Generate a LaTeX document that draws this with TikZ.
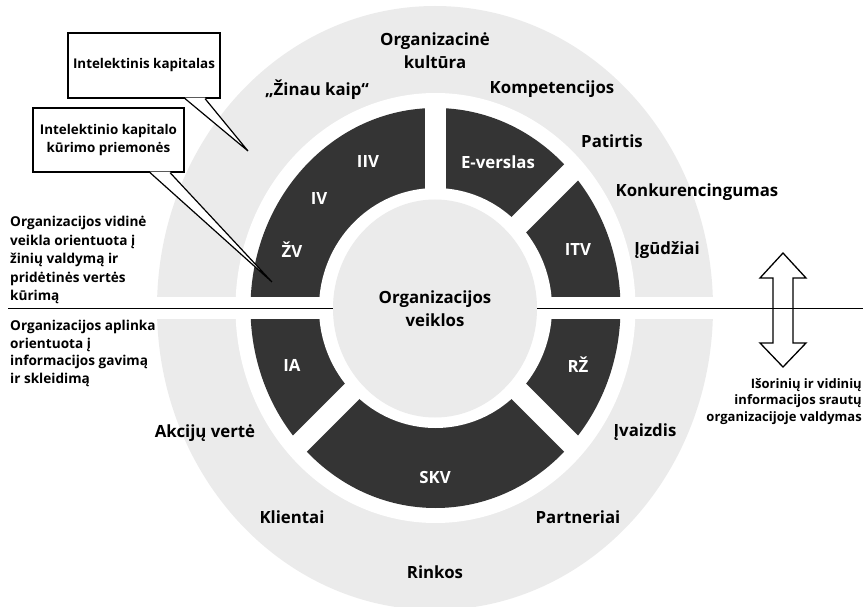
\documentclass[tikz,border=0pt]{standalone}
\usepackage{fontspec}
\setmainfont{Open Sans}
\usetikzlibrary{shapes.geometric}
\definecolor{ringgray}{RGB}{235,235,235}
\definecolor{darkseg}{RGB}{52,52,52}
\begin{document}
\begin{tikzpicture}[x=1pt,y=-1pt,
  lbl/.style={inner sep=0pt, font=\bfseries\fontsize{16.8pt}{23pt}\selectfont, align=center},
  seg/.style={inner sep=0pt, font=\bfseries\fontsize{16.8pt}{20pt}\selectfont, text=white},
  note/.style={inner sep=0pt, font=\bfseries\fontsize{13.6pt}{18.5pt}\selectfont, align=left},
  callbox/.style={draw, line width=1.2pt, fill=white, inner sep=0pt, font=\bfseries\fontsize{13.4pt}{18pt}\selectfont, align=center},
  tail/.style={line width=1.2pt, line join=miter},
  divider/.style={line width=1.6pt},
]
\useasboundingbox (0,0) rectangle (863,607);
% outer light ring
\fill[ringgray] (435,308) ellipse [x radius=278pt, y radius=302pt];
\coordinate (C) at (435.5,308);
\fill[white] (C) ellipse [x radius=200pt, y radius=215pt];
\fill[darkseg] (C) ellipse [x radius=185pt, y radius=200pt];
\begin{scope}[white, line width=21pt]
\draw (C) -- ++(0,-207);
\draw (C) -- ++(141,-141);
\draw (C) -- ++(141,141);
\draw (C) -- ++(-141,141);
\end{scope}
\fill[white] (0,297) rectangle (863,319);
\fill[white] (C) ellipse [x radius=116.5pt, y radius=120pt];
\node[ellipse, fill=ringgray, minimum width=204pt, minimum height=218pt, lbl] (core) at (435,308.5) {Organizacijos\\veiklos};

% segment labels
\node[seg] (iiv) at (368,162) {IIV};
\node[seg] (iv) at (319,199) {IV};
\node[seg] (zv) at (292,250) {ŽV};
\node[seg] (ever) at (498,162) {E-verslas};
\node[seg] (itv) at (578,250) {ITV};
\node[seg] (rz) at (578,365) {RŽ};
\node[seg] (skv) at (435,477) {SKV};
\node[seg] (ia) at (292,365) {IA};

% outer labels
\node[lbl] (kult) at (435,50.5) {Organizacinė\\kultūra};
\node[lbl] (zinau) at (317,90) {„Žinau kaip“};
\node[lbl] (komp) at (552,89) {Kompetencijos};
\node[lbl] (pat) at (612,141) {Patirtis};
\node[lbl] (konk) at (697,192) {Konkurencingumas};
\node[lbl] (igud) at (667,250) {Įgūdžiai};
\node[lbl] (ivaiz) at (645,432) {Įvaizdis};
\node[lbl] (akc) at (205,433) {Akcijų vertė};
\node[lbl] (klien) at (292,517) {Klientai};
\node[lbl] (part) at (578,517) {Partneriai};
\node[lbl] (rink) at (435,572) {Rinkos};

% side texts
\node[note, anchor=west] (inner) at (10,260) {Organizacijos vidinė\\veikla orientuota į\\žinių valdymą ir\\pridėtinės vertės\\kūrimą};
\node[note, anchor=west, font=\bfseries\fontsize{13.6pt}{17.7pt}\selectfont] (outer) at (10,353.5) {Organizacijos aplinka\\orientuota į\\informacijos gavimą\\ir skleidimą};
\node[note, anchor=east, align=right, font=\bfseries\fontsize{13pt}{16.5pt}\selectfont] (flow) at (862,401.5) {Išorinių ir vidinių\\informacijos srautų\\organizacijoje valdymas};

% callouts
\node[callbox, minimum width=152pt, minimum height=65pt] (cb1) at (144,65.5) {Intelektinis kapitalas};
\coordinate (tip1) at (248,151);
\path (cb1.south) ++(41,0) coordinate (b1l) ++(20,0) coordinate (b1r);
\fill[white] ([yshift=1pt]b1l) -- (tip1) -- ([yshift=1pt]b1r) -- cycle;
\draw[tail] (b1l) -- (tip1) -- (b1r);

\node[callbox, minimum width=151pt, minimum height=64pt] (cb2) at (108.5,140) {Intelektinio kapitalo\\kūrimo priemonės};
\coordinate (tip2) at (272,282);
\path (cb2.south) ++(41.5,0) coordinate (b2l) ++(20,0) coordinate (b2r);
\fill[white] ([yshift=1pt]b2l) -- (tip2) -- ([yshift=1pt]b2r) -- cycle;
\draw[tail] (b2l) -- (tip2) -- (b2r);

% double arrow
\draw[line width=1.3pt, fill=white, line join=miter] (783,253) -- (806,278) -- (793,278) -- (793,343) -- (806,343) -- (783,367) -- (760,343) -- (773,343) -- (773,278) -- (760,278) -- cycle;

% divider line
\coordinate (lineL) at (8,308.5);
\coordinate (lineR) at (863,308.5);
\draw[divider] (lineL) -- (core.west);
\draw[divider] (core.east) -- (lineR);
\end{tikzpicture}
\end{document}
